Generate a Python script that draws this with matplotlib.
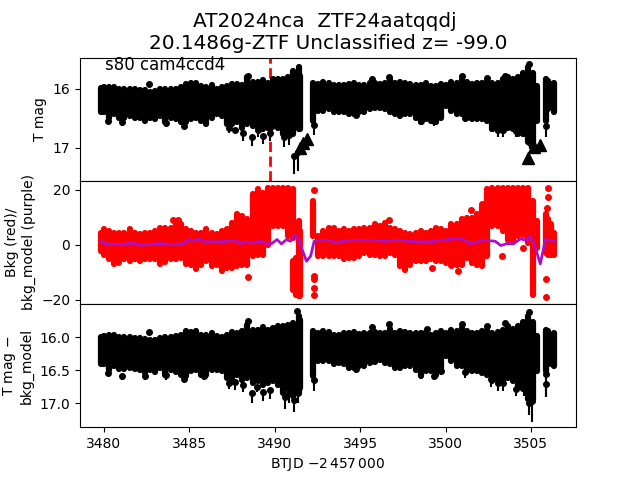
import matplotlib
matplotlib.use('Agg')
import matplotlib.pyplot as plt

# Times shared by the dense part of all three panels
btjd = [3479.85, 3480.0, 3480.3, 3480.6, 3480.9, 3481.2, 3481.5, 3481.8, 3482.1, 3482.4, 3482.7,
        3483.0, 3483.3, 3483.6, 3483.9, 3484.2, 3484.5, 3484.8, 3485.1, 3485.4, 3485.7,
        3486.0, 3486.3, 3486.6, 3486.9, 3487.2, 3487.5, 3487.8, 3488.1, 3488.4, 3488.7,
        3489.0, 3489.3, 3489.6, 3489.9, 3490.2, 3490.5, 3490.8, 3491.1, 3491.4, 3491.5,
        3492.25, 3492.55, 3492.85, 3493.15, 3493.45, 3493.75, 3494.05, 3494.35, 3494.65, 3494.95,
        3495.25, 3495.55, 3495.85, 3496.15, 3496.45, 3496.75, 3497.05, 3497.35, 3497.65, 3497.95,
        3498.25, 3498.55, 3498.85, 3499.15, 3499.45, 3499.75, 3500.05, 3500.35, 3500.65, 3500.95,
        3501.25, 3501.55, 3501.85, 3502.15, 3502.45, 3502.75, 3503.05, 3503.35, 3503.65, 3503.95,
        3504.25, 3504.55, 3504.85, 3505.15, 3505.35,
        3505.88, 3506.0, 3506.2, 3506.35]

# Panel 1: T mag band
tmag_top = [15.94, 15.93, 15.93, 15.92, 15.95, 15.95, 15.96, 15.96, 15.97, 15.97, 16.0,
            15.99, 15.96, 15.95, 15.95, 15.95, 15.93, 15.875, 15.85, 15.86, 15.90,
            15.915, 15.89, 15.96, 15.93, 15.90, 15.875, 15.875, 15.89, 15.76, 15.84,
            15.84, 15.80, 15.85, 15.79, 15.78, 15.78, 15.745, 15.65, 15.59, 15.735,
            15.85, 15.875, 15.84, 15.85, 15.89, 15.89, 15.89, 15.875, 15.86, 15.89,
            15.89, 15.85, 15.85, 15.875, 15.86, 15.79, 15.86, 15.84, 15.86, 15.875,
            15.89, 15.89, 15.86, 15.90, 15.90, 15.875, 15.89, 15.84, 15.85, 15.79,
            15.84, 15.875, 15.85, 15.85, 15.82, 15.85, 15.85, 15.79, 15.76, 15.79,
            15.76, 15.68, 15.59, 15.68, 15.90,
            15.78, 15.82, 15.875, 15.86]
tmag_bot = [16.40, 16.41, 16.50, 16.44, 16.50, 16.50, 16.47, 16.50, 16.50, 16.55, 16.50,
            16.525, 16.47, 16.58, 16.50, 16.525, 16.58, 16.58, 16.525, 16.50, 16.55,
            16.61, 16.50, 16.44, 16.47, 16.61, 16.61, 16.58, 16.67, 16.61, 16.64,
            16.67, 16.695, 16.67, 16.64, 16.67, 16.78, 16.78, 16.78, 16.695, 16.695,
            16.55, 16.385, 16.385, 16.36, 16.41, 16.41, 16.41, 16.44, 16.44, 16.41,
            16.41, 16.36, 16.345, 16.33, 16.36, 16.40, 16.44, 16.47, 16.44, 16.44,
            16.50, 16.58, 16.525, 16.55, 16.58, 16.50, 16.30, 16.385, 16.44, 16.44,
            16.50, 16.525, 16.525, 16.525, 16.55, 16.695, 16.72, 16.72, 16.67, 16.695,
            16.78, 16.78, 16.92, 17.03, 16.55,
            16.55, 16.36, 16.30, 16.41]

# Panel 1: faint points with error bars
faint1_t = [3480.25, 3481.08, 3483.63, 3484.71, 3487.35, 3487.65, 3488.14, 3488.67, 3489.02, 3489.31,
            3489.71, 3489.82, 3490.53, 3490.84, 3491.12, 3491.39, 3492.31, 3494.77, 3498.59, 3499.32,
            3501.14, 3502.71, 3503.1, 3503.34, 3504.1, 3504.57, 3504.96, 3505.91]
faint1_mag = [16.55, 16.57, 16.59, 16.63, 16.67, 16.695, 16.75, 16.82, 16.695, 16.80,
              16.75, 16.64, 16.82, 16.78, 17.135, 17.08, 16.61, 16.44, 16.55, 16.55,
              16.50, 16.67, 16.68, 16.695, 16.72, 16.72, 16.92, 16.64]
faint1_low = [16.59, 16.63, 16.65, 16.67, 16.75, 16.75, 16.88, 16.97, 16.82, 16.93,
              16.89, 16.75, 16.99, 16.95, 17.44, 17.40, 16.78, 16.50, 16.61, 16.64,
              16.57, 16.74, 16.82, 16.82, 16.82, 16.82, 17.03, 16.82]
bright1_t = [3482.65, 3488.43, 3495.69, 3496.69, 3500.98, 3502.45, 3503.49, 3504.87]
bright1_mag = [15.93, 15.79, 15.84, 15.80, 15.78, 15.82, 15.78, 15.59]
limit_t = [3491.47, 3491.67, 3491.9, 3504.84, 3505.2, 3505.53]
limit_mag = [17.0, 16.92, 16.85, 17.175, 16.99, 16.95]

# Panel 2: background
bkg_top = [5.5, 6.8, 6.2, 5.6, 5.6, 5.6, 6.8, 5.6, 5.0, 5.6, 5.6,
           6.2, 7.4, 7.4, 7.4, 8.6, 8.6, 6.8, 6.2, 5.6, 5.6,
           6.8, 5.6, 5.0, 6.2, 6.8, 9.2, 12.2, 11.6, 10.4, 19.5,
           21.3, 20.1, 21.9, 21.9, 21.9, 21.9, 21.9, 21.3, 9.8, 6.2,
           17.1, 4.4, 6.2, 7.4, 7.4, 6.2, 6.8, 6.2, 6.8, 6.8,
           7.4, 7.4, 8.6, 8.0, 9.2, 7.4, 6.8, 6.2, 5.6, 5.0,
           5.6, 6.2, 5.6, 6.2, 7.4, 6.8, 6.2, 8.6, 8.6, 10.4,
           11.0, 11.0, 12.2, 14.7, 21.3, 21.9, 21.9, 21.9, 21.9, 21.9,
           21.9, 21.9, 21.9, 17.1, 9.8,
           12.2, 10.4, 8.6, 5.6]
bkg_bot = [-3.0, -4.1, -5.9, -7.4, -6.5, -5.9, -6.5, -5.9, -6.5, -5.9, -5.9,
           -5.9, -7.4, -6.9, -5.9, -5.9, -5.3, -7.4, -7.8, -9.3, -7.8,
           -6.5, -8.4, -7.8, -10.2, -9.0, -9.0, -8.4, -7.8, -7.8, -4.7,
           -4.1, -4.1, -0.5, 6.2, 6.2, 6.2, 2.5, 1.9, -19.3, -19.3,
           2.5, -4.7, -4.7, -4.5, -4.7, -4.7, -5.9, -5.3, -5.3, -4.7,
           -3.5, -4.1, -4.1, -4.7, -4.7, -3.5, -4.1, -8.4, -9.6, -7.8,
           -6.5, -6.5, -6.5, -5.9, -6.5, -6.5, -7.2, -7.2, -7.8, -7.8,
           -5.3, -7.2, -7.8, -8.4, -4.7, 6.2, 6.2, 4.4, 1.3, 0.7,
           2.5, 3.1, 0.1, -18.7, -1.7,
           -3.5, -4.1, -4.1, -4.1]
bkg_low_t = [3491.1, 3491.25]
bkg_low_top = [-4.7, -3.5]
bkg_low_bot = [-17.5, -19.3]
bkg_dots_t = [3484.02, 3484.35, 3488.43, 3480.84, 3492.31, 3492.31, 3492.31, 3492.31, 3492.31,
              3501.47, 3502.16, 3503.3, 3504.51, 3499.22, 3500.75, 3500.3, 3496.69,
              3505.98, 3505.98, 3505.95, 3505.91, 3505.91]
bkg_dots = [9.2, 9.0, -11.8, -6.3, 19.9, -11.4, -12.4, -15.6, -18.1,
            12.6, 14.7, -4.1, -1.1, -8.4, -9.6, -7.4, 9.0,
            20.7, 17.5, 13.5, -12.4, -18.9]

model_t = [3479.8, 3480.1, 3481.08, 3481.67, 3482.16, 3483.24, 3484.02, 3484.61, 3485.0, 3485.29,
           3485.59, 3485.88, 3486.76, 3487.75, 3487.94, 3488.33, 3488.73, 3489.12, 3489.41, 3489.8,
           3490.14, 3490.39, 3490.69, 3490.92, 3491.18, 3491.37, 3491.57, 3491.86, 3492.1, 3492.31,
           3492.65, 3493.24, 3493.59, 3493.98, 3494.77, 3495.75, 3496.53, 3497.12, 3498.3, 3499.08,
           3499.87, 3500.65, 3501.04, 3501.44, 3501.83, 3502.22, 3502.91, 3503.24, 3503.59, 3503.98,
           3504.38, 3504.77, 3504.96, 3505.2, 3505.55, 3505.85, 3506.34]
model = [1.33, 0.36, 0.12, 0.72, -0.12, 0.48, 0.12, 0.36, 1.94, 1.33,
         2.30, 1.09, 1.09, 1.57, 0.48, 1.09, 0.72, 1.33, 0.72, 0.36,
         1.94, 0.36, 1.94, 1.33, 3.51, 2.54, -1.09, -5.94, -4.12, 1.33,
         1.69, 1.57, 0.72, 1.33, 1.69, 1.57, 1.33, 1.69, 1.09, 1.09,
         1.69, 2.30, 1.94, 0.48, 0.96, 1.69, 1.33, -0.25, 0.48, 0.36,
         2.18, 1.69, 3.15, 0.12, -6.91, 1.94, 1.33]

# Panel 3: T mag minus model
corr_top = [15.95, 15.94, 15.92, 15.93, 15.96, 15.96, 15.96, 15.97, 15.97, 15.98, 16.005,
            15.995, 15.97, 15.96, 15.95, 15.94, 15.93, 15.87, 15.88, 15.86, 15.92,
            15.92, 15.89, 15.94, 15.95, 15.92, 15.88, 15.89, 15.87, 15.77, 15.84,
            15.84, 15.80, 15.84, 15.82, 15.79, 15.79, 15.77, 15.74, 15.64, 15.69,
            15.87, 15.90, 15.87, 15.88, 15.92, 15.92, 15.89, 15.89, 15.88, 15.91,
            15.90, 15.89, 15.88, 15.90, 15.89, 15.83, 15.89, 15.87, 15.88, 15.90,
            15.90, 15.90, 15.88, 15.92, 15.89, 15.87, 15.89, 15.84, 15.87, 15.82,
            15.87, 15.90, 15.89, 15.87, 15.84, 15.89, 15.88, 15.85, 15.78, 15.83,
            15.79, 15.72, 15.64, 15.72, 15.94,
            15.84, 15.87, 15.92, 15.90]
corr_bot = [16.41, 16.42, 16.50, 16.45, 16.49, 16.49, 16.475, 16.49, 16.51, 16.55, 16.51,
            16.54, 16.475, 16.575, 16.51, 16.54, 16.575, 16.59, 16.525, 16.50, 16.575,
            16.575, 16.51, 16.50, 16.525, 16.625, 16.625, 16.575, 16.65, 16.625, 16.70,
            16.68, 16.73, 16.70, 16.68, 16.73, 16.85, 16.80, 16.90, 16.85, 16.78,
            16.60, 16.37, 16.37, 16.37, 16.42, 16.40, 16.42, 16.475, 16.475, 16.45,
            16.45, 16.40, 16.39, 16.36, 16.40, 16.42, 16.475, 16.475, 16.45, 16.45,
            16.50, 16.60, 16.525, 16.525, 16.575, 16.50, 16.30, 16.37, 16.45, 16.45,
            16.525, 16.525, 16.525, 16.55, 16.575, 16.68, 16.68, 16.65, 16.625, 16.68,
            16.75, 16.80, 16.95, 16.95, 16.525,
            16.525, 16.40, 16.42, 16.45]
faint3_t = [3480.25, 3481.08, 3482.39, 3483.63, 3484.71, 3485.88, 3487.35, 3487.65, 3488.14, 3488.67,
            3488.98, 3489.31, 3489.71, 3490.59, 3490.84, 3491.12, 3491.37, 3492.31, 3494.77, 3499.32,
            3499.71, 3501.14, 3502.67, 3503.1, 3503.34, 3504.1, 3504.57, 3504.91, 3505.06, 3505.91, 3505.91]
faint3_mag = [16.54, 16.59, 16.59, 16.575, 16.625, 16.59, 16.70, 16.68, 16.73, 16.85,
              16.75, 16.83, 16.80, 16.90, 16.85, 16.95, 16.85, 16.65, 16.475, 16.59,
              16.51, 16.525, 16.625, 16.69, 16.69, 16.78, 16.75, 17.0, 16.97, 16.55, 16.71]
faint3_low = [16.59, 16.65, 16.64, 16.65, 16.68, 16.64, 16.79, 16.80, 16.83, 16.995,
              16.83, 16.96, 16.93, 17.08, 17.0, 17.13, 16.995, 16.81, 16.54, 16.65,
              16.575, 16.61, 16.76, 16.81, 16.81, 16.89, 16.89, 17.18, 17.28, 16.90, 16.90]
bright3_t = [3482.65, 3488.43, 3491.31, 3495.69, 3496.69, 3498.89, 3500.98, 3502.45, 3503.49, 3504.87]
bright3_mag = [15.93, 15.75, 15.60, 15.84, 15.80, 15.87, 15.80, 15.83, 15.78, 15.615]

event_t = 3489.71


def draw_band(ax, t, top, bot, color, pad_top, pad_bot):
    # the caps of these thick lines stick out, so shorten them by the pads
    ax.vlines(t, [v + pad_top for v in top], [v - pad_bot for v in bot], color=color, lw=4.5, capstyle='round', zorder=2)


def draw_faint(ax, t, mag, low):
    down = [b - m for m, b in zip(mag, low)]
    ax.errorbar(t, mag, yerr=[[0] * len(t), down], fmt='o', color='k', ms=4, elinewidth=1.5, zorder=3)


fig, (ax1, ax2, ax3) = plt.subplots(3, 1, sharex=True)
fig.subplots_adjust(hspace=0)

# Top panel
draw_band(ax1, btjd, tmag_top, tmag_bot, 'k', 0.05, 0.01)
draw_faint(ax1, faint1_t, faint1_mag, faint1_low)
ax1.plot(bright1_t, bright1_mag, 'o', color='k', ms=4, zorder=3)
ax1.plot(limit_t, limit_mag, '^', color='k', ms=8, zorder=3)
ax1.axvline(event_t, color='r', ls='--', lw=2, zorder=1)
ax1.set_ylim(17.56, 15.475)
ax1.set_yticks([16, 17])
ax1.set_ylabel('T mag')
ax1.set_title('AT2024nca  ZTF24aatqqdj \n20.1486g-ZTF Unclassified z= -99.0', fontsize=14.4)
ax1.text(3480.05, 15.6, 's80 cam4ccd4', fontsize=12, va='center')

# Middle panel (values grow upwards here, so the pads are negative)
draw_band(ax2, btjd, bkg_top, bkg_bot, 'r', -1.1, -0.6)
draw_band(ax2, bkg_low_t, bkg_low_top, bkg_low_bot, 'r', -1.1, -1.1)
ax2.plot(bkg_dots_t, bkg_dots, 'o', color='r', ms=4, zorder=2)
ax2.plot(model_t, model, color='#aa10c8', lw=2, zorder=4)
ax2.set_ylim(-21.5, 23.3)
ax2.set_yticks([-20, 0, 20])
ax2.set_ylabel('Bkg (red)/\nbkg_model (purple)')

# Bottom panel
draw_band(ax3, btjd, corr_top, corr_bot, 'k', 0.045, 0.01)
draw_faint(ax3, faint3_t, faint3_mag, faint3_low)
ax3.plot(bright3_t, bright3_mag, 'o', color='k', ms=4, zorder=3)
ax3.set_ylim(17.36, 15.5)
ax3.set_yticks([16.0, 16.5, 17.0])
ax3.set_ylabel('T mag $-$\nbkg_model')
ax3.set_xlabel(r'BTJD $-2\,457\,000$')
ax3.set_xlim(3478.6, 3507.64)
ax3.set_xticks([3480, 3485, 3490, 3495, 3500, 3505])

fig.savefig('out.png', dpi=100)
